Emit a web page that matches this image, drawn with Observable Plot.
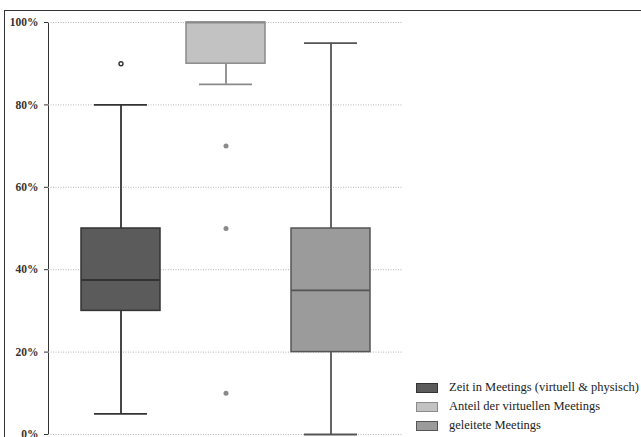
<!DOCTYPE html>
<html>
<head>
<meta charset="utf-8">
<script src="https://cdn.jsdelivr.net/npm/d3@7"></script>
<script src="https://cdn.jsdelivr.net/npm/@observablehq/plot@0.6"></script>
<style>
  html, body { margin: 0; padding: 0; background: #fff; }
  #wrap { position: relative; width: 641px; height: 437px; overflow: hidden; font-family: "Liberation Serif", serif; }
  #frame { position: absolute; left: 4px; top: 10px; width: 700px; height: 500px; border-left: 1.5px solid #333; border-top: 1.5px solid #333; pointer-events: none; }
  #chart { position: absolute; left: 0; top: 0; }
  #legend { position: absolute; left: 416px; top: 378px; font-size: 12.5px; color: #222; }
  .item { display: flex; align-items: center; height: 19px; white-space: nowrap; }
  .sw { width: 20px; height: 8px; margin-right: 11px; border: 1px solid #444; }
</style>
</head>
<body>
<div id="wrap">
  <div id="chart"></div>
  <div id="frame"></div>
  <div id="legend"></div>
</div>
<script>
const categories = ["Zeit in Meetings (virtuell & physisch)", "Anteil der virtuellen Meetings", "geleitete Meetings"];
const q1 = [0.30, 0.90, 0.20];
const median = [0.375, 1.00, 0.35];
const q3 = [0.50, 1.00, 0.50];
const whiskerLow = [0.05, 0.85, 0.00];
const whiskerHigh = [0.80, 1.00, 0.95];
const outlierCategory = [0, 1, 1, 1];
const outlierValue = [0.90, 0.70, 0.50, 0.10];
const yTicks = [0, 0.2, 0.4, 0.6, 0.8, 1.0];

const fills = ["#5b5b5b", "#c2c2c2", "#9b9b9b"];
const strokes = ["#333333", "#8a8a8a", "#555555"];

const boxes = categories.map((c, i) => ({
  cat: c, q1: q1[i], med: median[i], q3: q3[i], lo: whiskerLow[i], hi: whiskerHigh[i],
  fill: fills[i], stroke: strokes[i]
}));
const outliers = outlierCategory.map((ci, j) => ({ cat: categories[ci], v: outlierValue[j], idx: ci }));

const chart = Plot.plot({
  width: 641,
  height: 437,
  marginLeft: 48,
  marginRight: 238,
  marginTop: 22,
  marginBottom: 3,
  style: { fontFamily: "Liberation Serif, serif", fontSize: "11.5px", color: "#333", background: "transparent", overflow: "visible" },
  x: { domain: categories, paddingInner: 0.25, paddingOuter: 0.31, axis: null },
  y: { domain: [0, 1], ticks: yTicks, tickFormat: d => Math.round(d * 100) + "%", label: null, line: true, tickSize: 4, tickPadding: 6 },
  marks: [
    Plot.gridY(yTicks, { stroke: "#b5b5b5", strokeOpacity: 1, strokeDasharray: "1,1.5", strokeWidth: 1 }),
    Plot.ruleX(boxes, { x: "cat", y1: "lo", y2: "hi", stroke: "stroke", strokeWidth: 1.8 }),
    Plot.tickY(boxes, { x: "cat", y: "lo", stroke: "stroke", strokeWidth: 1.8, insetLeft: 13, insetRight: 13 }),
    Plot.tickY(boxes, { x: "cat", y: "hi", stroke: "stroke", strokeWidth: 1.8, insetLeft: 13, insetRight: 13 }),
    Plot.barY(boxes, { x: "cat", y1: "q1", y2: "q3", fill: "fill", stroke: "stroke", strokeWidth: 1.5 }),
    Plot.tickY(boxes, { x: "cat", y: "med", stroke: "stroke", strokeWidth: 1.8 }),
    Plot.dot(outliers.filter(d => d.idx === 0), { x: "cat", y: "v", r: 2, fill: "white", stroke: "#333", strokeWidth: 1.4 }),
    Plot.dot(outliers.filter(d => d.idx !== 0), { x: "cat", y: "v", r: 2.5, fill: "#8a8a8a", stroke: "none" })
  ]
});
chart.querySelectorAll('[aria-label="y-axis tick label"] text').forEach(t => t.setAttribute("font-weight", "bold"));
document.getElementById("chart").appendChild(chart);

const legend = document.getElementById("legend");
categories.forEach((c, i) => {
  const item = document.createElement("div");
  item.className = "item";
  const sw = document.createElement("span");
  sw.className = "sw";
  sw.style.background = fills[i];
  sw.style.borderColor = strokes[i];
  const label = document.createElement("span");
  label.textContent = c;
  item.appendChild(sw);
  item.appendChild(label);
  legend.appendChild(item);
});
</script>
</body>
</html>
